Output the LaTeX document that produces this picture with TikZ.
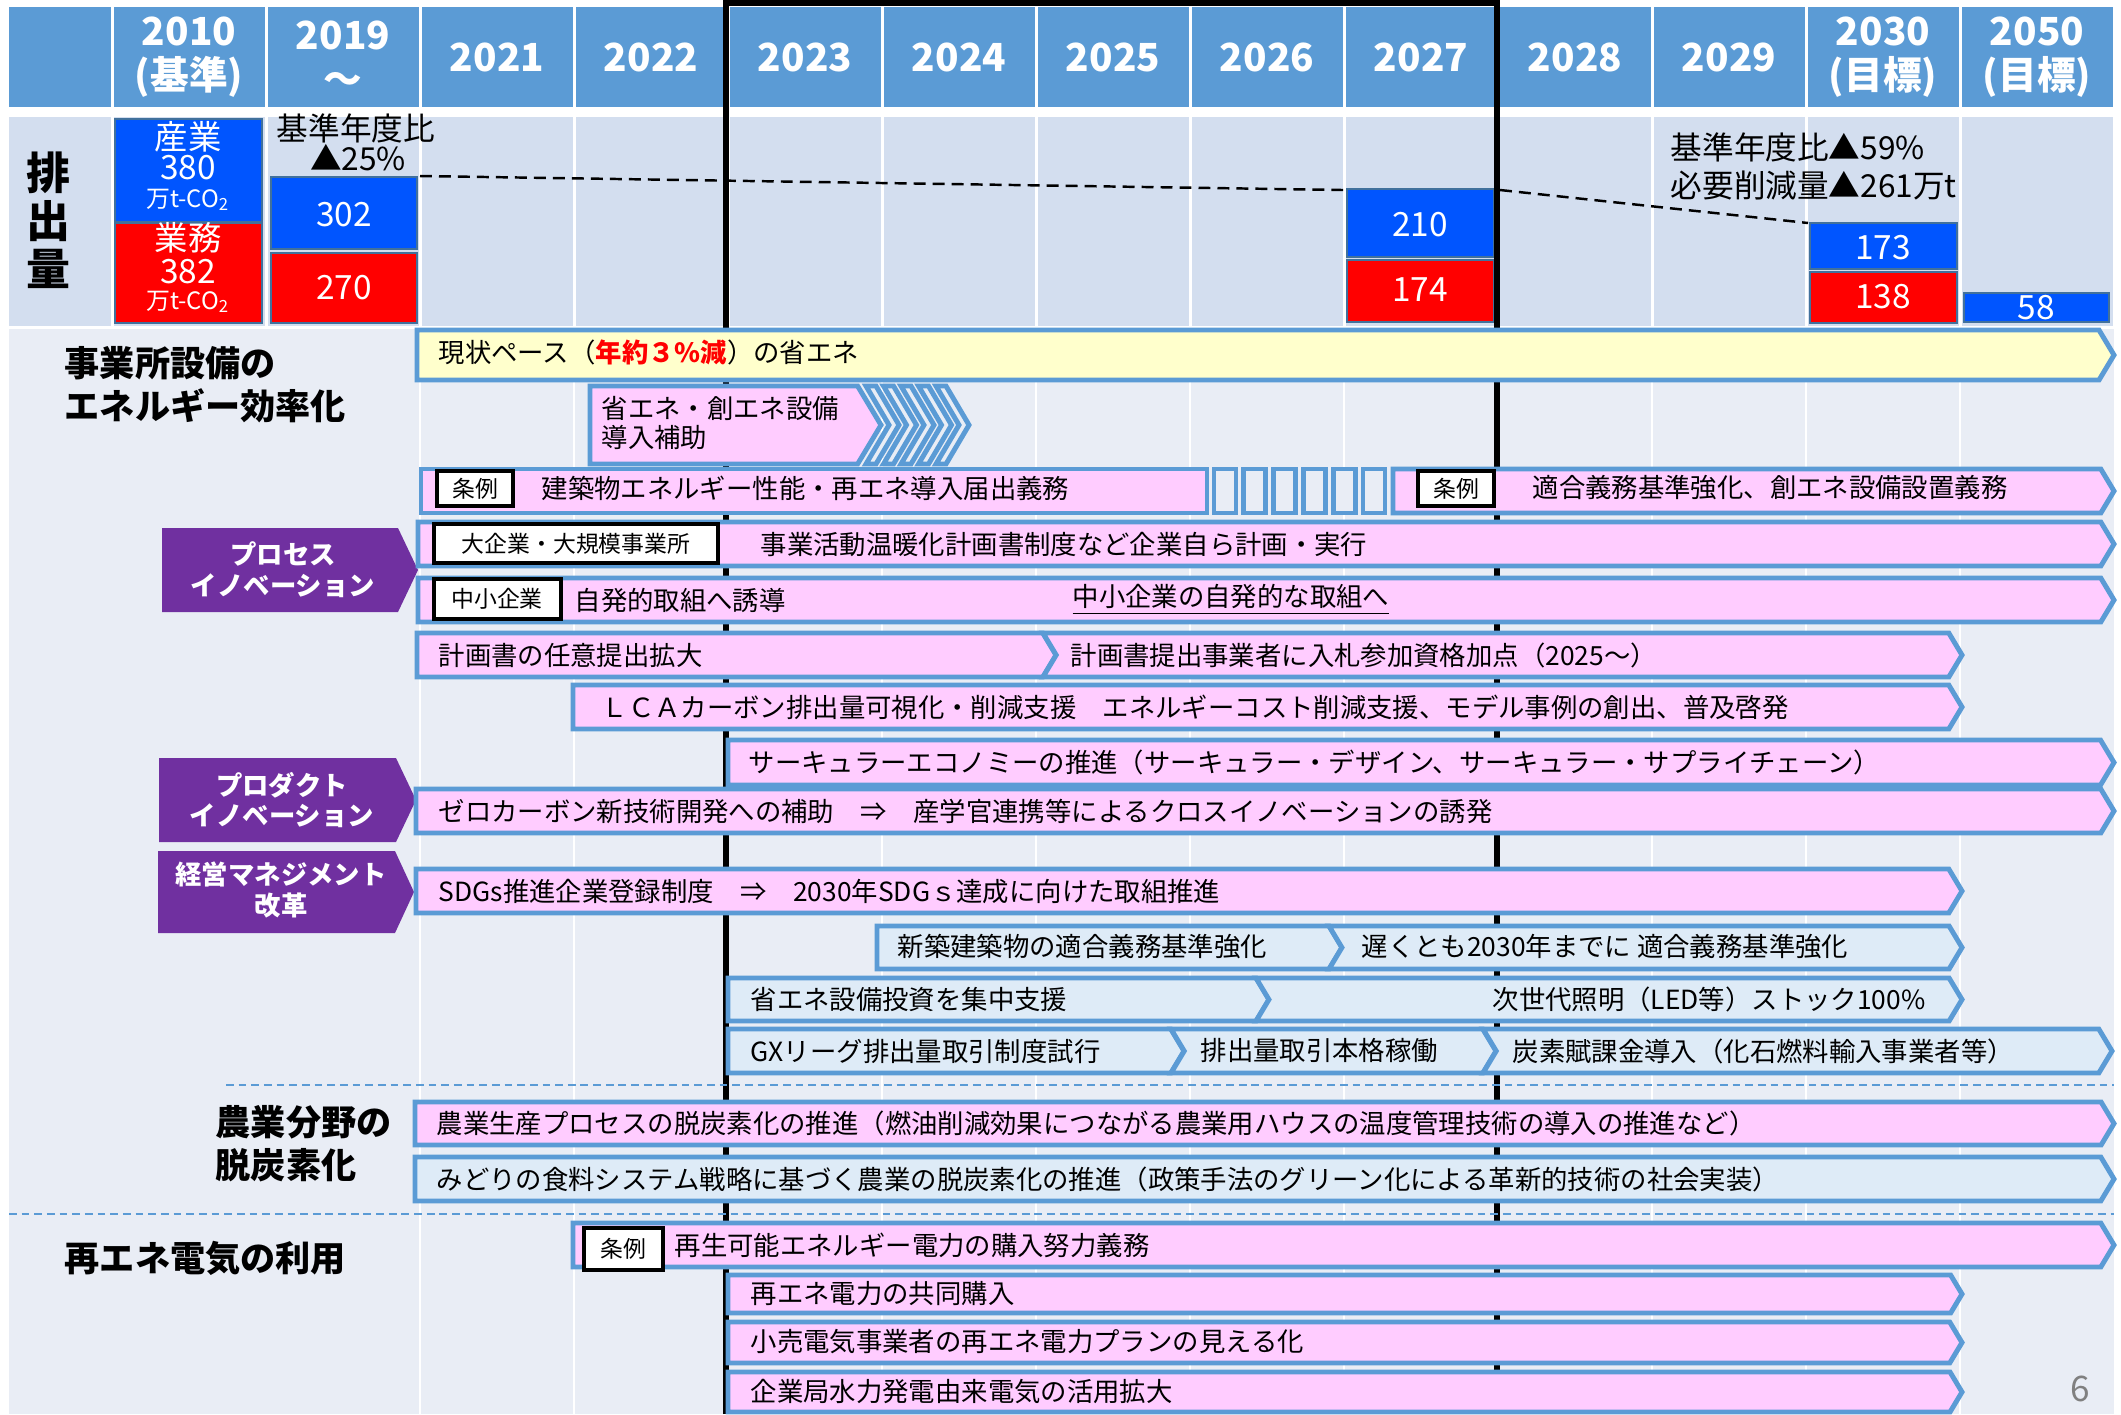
\documentclass[tikz,border=0pt]{standalone}
\usepackage{fontspec}
\setmainfont{Noto Sans CJK JP}
\usepackage{tikz}
\definecolor{hdrblue}{HTML}{5B9BD5}
\definecolor{emrowbg}{HTML}{D3DEEF}
\definecolor{bodybg}{HTML}{E9EDF5}
\definecolor{barpink}{HTML}{FFCCFF}
\definecolor{baryellow}{HTML}{FFFFCC}
\definecolor{barsky}{HTML}{DEEBF7}
\definecolor{tagpurple}{HTML}{7030A0}
\definecolor{emblue}{HTML}{0055FF}
\definecolor{emred}{HTML}{FF0000}
\definecolor{emedge}{HTML}{41719C}
\tikzset{
  hdrtext/.style = {white, inner sep=0pt, align=center,
    font=\bfseries\fontsize{11}{12.5}\selectfont},% year heads
  emnum/.style = {white, inner sep=0pt, font=\fontsize{9.5}{10}\selectfont},
  emsmall/.style = {white, inner sep=0pt, font=\fontsize{6.8}{7}\selectfont},
  emnote/.style = {inner sep=0pt, font=\fontsize{9}{10}\selectfont},
  emhead/.style = {inner sep=0pt, align=center,
    font=\bfseries\fontsize{12.5}{13.7}\selectfont},
  embox/.style = {draw=emedge, line width=0.8pt},
  trend/.style = {black, line width=0.7pt, dash pattern=on 3.4pt off 2pt},
  gridline/.style = {white, line width=0.8pt},
  nowframe/.style = {black, line width=1.8pt},
  sepline/.style = {hdrblue, line width=0.6pt, dash pattern=on 2.2pt off 1.4pt},
  barrim/.style = {draw=hdrblue, line width=1.4pt},% blue rim of the bars
  bartxt/.style = {anchor=west, inner sep=0pt, font=\fontsize{7.5}{9}\selectfont},
  labbox/.style = {draw=black, fill=white, line width=0.9pt},
  labtxt/.style = {inner sep=0pt, font=\fontsize{6.5}{7}\selectfont},
  secttext/.style = {anchor=west, inner sep=0pt, align=left,
    font=\bfseries\fontsize{10}{12.2}\selectfont},
  tagtext/.style = {white, inner sep=0pt, align=center,
    font=\bfseries\fontsize{7.5}{8.8}\selectfont},
  pagenum/.style = {gray, inner sep=0pt, font=\fontsize{10}{10}\selectfont}
}
% bar with a point on the right: colour, left, tip, top, bottom
\newcommand{\tipbar}[5]{%
  \draw[barrim, fill=#1] (#2,#4) -- ({#3-0.3*(#5-#4)},#4) -- (#3,{(#4+#5)/2})
    -- ({#3-0.3*(#5-#4)},#5) -- (#2,#5) -- cycle;}
% same, notched on the left to take the point of the bar before it
\newcommand{\notchbar}[5]{%
  \draw[barrim, fill=#1] (#2,#4) -- ({#3-0.3*(#5-#4)},#4) -- (#3,{(#4+#5)/2})
    -- ({#3-0.3*(#5-#4)},#5) -- (#2,#5) -- ({#2+0.3*(#5-#4)},{(#4+#5)/2}) -- cycle;}

\begin{document}
\begin{tikzpicture}[x=0.01cm, y=-0.01cm]
  \useasboundingbox (0,0) rectangle (2121,1414);
  % head row and emission row
  \fill[hdrblue] (9,7) rectangle (110.5,107);
  \fill[emrowbg] (9,117) rectangle (110.5,326);
  \foreach \k/\yr in {0/{2010\\(基準)}, 1/{2019\\～}, 2/2021, 3/2022, 4/2023,
      5/2024, 6/2025, 7/2026, 8/2027, 9/2028, 10/2029, 11/{2030\\(目標)},
      12/{2050\\(目標)}}{
    \fill[hdrblue] ({112+154*\k+1.5},7) rectangle ({112+154*(\k+1)-1.5},107);
    \fill[emrowbg] ({112+154*\k+1.5},117) rectangle ({112+154*(\k+1)-1.5},326);
    \node[hdrtext] (h\k) at ({112+154*\k+77},57) {\yr};
  }
  \node[emhead] (ehead) at (48,220) {排\\出\\量};
  % body
  \fill[bodybg] (9,329) rectangle (2114,1414);
  \foreach \k in {2,...,12}
    \draw[gridline] ({112+154*\k},329) -- ({112+154*\k},1414);

  % emission blocks
  \draw[embox, fill=emblue] (115,119) rectangle (262,222);
  \draw[embox, fill=emred] (115,223) rectangle (262,323);
  \node[emnum] (ind10) at (188,137) {産業};
  \node[emnum] (ind10v) at (188,168) {380};
  \node[emsmall] (ind10u) at (188,200) {万t-CO\textsubscript{2}};
  \node[emnum] (biz10) at (188,238) {業務};
  \node[emnum] (biz10v) at (188,272) {382};
  \node[emsmall] (biz10u) at (188,302) {万t-CO\textsubscript{2}};
  \draw[embox, fill=emblue] (271,177) rectangle (417,249);
  \draw[embox, fill=emred] (271,253) rectangle (417,323);
  \node[emnum] (ind19) at (344,215) {302};
  \node[emnum] (biz19) at (344,288) {270};
  \draw[embox, fill=emblue] (1347,189) rectangle (1494,257);
  \draw[embox, fill=emred] (1347,260) rectangle (1494,322);
  \node[emnum] (ind27) at (1420,225) {210};
  \node[emnum] (biz27) at (1420,290) {174};
  \draw[embox, fill=emblue] (1810,223) rectangle (1957,269);
  \draw[embox, fill=emred] (1810,272) rectangle (1957,323);
  \node[emnum] (ind30) at (1883,248) {173};
  \node[emnum] (biz30) at (1883,297) {138};
  \draw[embox, fill=emblue] (1964,293) rectangle (2109,322);
  \node[emnum] (all50) at (2036,308) {58};
  \node[emnote] (r19a) at (356,128) {基準年度比};
  \node[emnote] (r19b) at (358,158) {▲25\%};
  \node[emnote, anchor=west] (r30a) at (1670,147) {基準年度比▲59\%};
  \node[emnote, anchor=west] (r30b) at (1670,185) {必要削減量▲261万t};
  \coordinate (top19) at (420,176);
  \coordinate (top27) at (1343,190);
  \coordinate (top27r) at (1500,190);
  \coordinate (top30) at (1808,223);
  \draw[trend] (top19) -- (top27);
  \draw[trend] (top27r) -- (top30);

  % 2023-2027 frame
  \draw[nowframe] (726,1414) -- (726,3) -- (1497,3) -- (1497,1414);

  % side labels
  \node[secttext] (sEff) at (64,385) {事業所設備の\\エネルギー効率化};
  \node[secttext] (sAgri) at (215,1144) {農業分野の\\脱炭素化};
  \node[secttext] (sRen) at (64,1258) {再エネ電気の利用};
  \fill[tagpurple] (162,528) -- (398,528) -- (418,570) -- (398,612) -- (162,612) -- cycle;
  \node[tagtext] (tProc) at (283,570) {プロセス\\イノベーション};
  \fill[tagpurple] (159,758) -- (396,758) -- (416,800) -- (396,842) -- (159,842) -- cycle;
  \node[tagtext] (tProd) at (282,800) {プロダクト\\イノベーション};
  \fill[tagpurple] (158,851) -- (395,851) -- (414,892) -- (395,933) -- (158,933) -- cycle;
  \node[tagtext] (tMgmt) at (281,890) {経営マネジメント\\改革};

  % efficiency bars
  \tipbar{baryellow}{417}{2114}{330}{380}
  \node[bartxt] (b1) at (438,352) {現状ペース（{\color{red}\bfseries 年約３\%減}）の省エネ};
  \tipbar{barpink}{590}{881}{386}{464}
  \foreach \s in {0,...,4}
    \draw[barrim, fill=bodybg] ({866+17.5*\s},386) -- ({876+17.5*\s},386)
      -- ({899+17.5*\s},425) -- ({876+17.5*\s},464) -- ({866+17.5*\s},464)
      -- ({889+17.5*\s},425) -- cycle;
  \node[bartxt] (b2a) at (601,408) {省エネ・創エネ設備};
  \node[bartxt] (b2b) at (601,437) {導入補助};
  \draw[barrim, fill=barpink] (421,469) rectangle (1207,513);
  \foreach \s in {0,...,5}
    \draw[barrim, fill=bodybg] ({1214+29.8*\s},469) rectangle ({1236+29.8*\s},513);
  \tipbar{barpink}{1393}{2114}{469}{513}
  \draw[labbox] (437,471) rectangle (513,506);
  \node[labtxt] (j1) at (475,489) {条例};
  \node[bartxt] (b3a) at (541,488) {建築物エネルギー性能・再エネ導入届出義務};
  \draw[labbox] (1418,471) rectangle (1494,506);
  \node[labtxt] (j2) at (1456,489) {条例};
  \node[bartxt] (b3b) at (1532,488) {適合義務基準強化、創エネ設備設置義務};
  \tipbar{barpink}{418}{2114}{522}{566}
  \draw[labbox] (434,524) rectangle (718,563);
  \node[labtxt] (k1) at (576,544) {大企業・大規模事業所};
  \node[bartxt] (b4) at (760,544) {事業活動温暖化計画書制度など企業自ら計画・実行};
  \tipbar{barpink}{418}{2114}{578}{622}
  \draw[labbox] (434,579) rectangle (561,619);
  \node[labtxt] (k2) at (497,599) {中小企業};
  \node[bartxt] (b5a) at (574,600) {自発的取組へ誘導};
  \node[bartxt] (b5b) at (1072,600) {\underline{中小企業の自発的な取組へ}};
  \tipbar{barpink}{417}{1056}{633}{677}
  \notchbar{barpink}{1043}{1962}{633}{677}
  \node[bartxt] (b6a) at (438,655) {計画書の任意提出拡大};
  \node[bartxt] (b6b) at (1070,655) {計画書提出事業者に入札参加資格加点（2025～）};
  \tipbar{barpink}{573}{1962}{685}{729}
  \node[bartxt] (b7) at (601,707) {ＬＣＡカーボン排出量可視化・削減支援　エネルギーコスト削減支援、モデル事例の創出、普及啓発};
  \tipbar{barpink}{728}{2114}{740}{785}
  \node[bartxt] (b8) at (748,762) {サーキュラーエコノミーの推進（サーキュラー・デザイン、サーキュラー・サプライチェーン）};
  \tipbar{barpink}{416}{2114}{789}{833}
  \node[bartxt] (b9) at (438,811) {ゼロカーボン新技術開発への補助　⇒　産学官連携等によるクロスイノベーションの誘発};
  \tipbar{barpink}{416}{1962}{869}{913}
  \node[bartxt] (b10) at (438,891) {SDGs推進企業登録制度　⇒　2030年SDGｓ達成に向けた取組推進};
  \tipbar{barsky}{877}{1342}{926}{969}
  \notchbar{barsky}{1329}{1962}{926}{969}
  \node[bartxt] (b11a) at (897,947) {新築建築物の適合義務基準強化};
  \node[bartxt] (b11b) at (1361,947) {遅くとも2030年までに 適合義務基準強化};
  \tipbar{barsky}{728}{1269}{978}{1021}
  \notchbar{barsky}{1256}{1962}{978}{1021}
  \node[bartxt] (b12a) at (750,999) {省エネ設備投資を集中支援};
  \node[bartxt] (b12b) at (1492,999) {次世代照明（LED等）ストック100\%};
  \tipbar{barsky}{728}{1184}{1029}{1073}
  \notchbar{barsky}{1171}{1496}{1029}{1073}
  \notchbar{barsky}{1483}{2112}{1029}{1073}
  \node[bartxt] (b13a) at (750,1051) {GXリーグ排出量取引制度試行};
  \node[bartxt] (b13b) at (1200,1051) {排出量取引本格稼働};
  \node[bartxt] (b13c) at (1512,1051) {炭素賦課金導入（化石燃料輸入事業者等）};

  % agriculture
  \draw[sepline] (226,1085) -- (2114,1085);
  \tipbar{barpink}{415}{2114}{1102}{1145}
  \node[bartxt] (b14) at (436,1123) {農業生産プロセスの脱炭素化の推進（燃油削減効果につながる農業用ハウスの温度管理技術の導入の推進など）};
  \tipbar{barsky}{415}{2114}{1157}{1201}
  \node[bartxt] (b15) at (436,1179) {みどりの食料システム戦略に基づく農業の脱炭素化の推進（政策手法のグリーン化による革新的技術の社会実装）};

  % renewable power
  \draw[sepline] (9,1214) -- (2114,1214);
  \tipbar{barpink}{573}{2114}{1223}{1267}
  \draw[labbox] (584,1228) rectangle (663,1270);
  \node[labtxt] (j3) at (623,1249) {条例};
  \node[bartxt] (b16) at (674,1245) {再生可能エネルギー電力の購入努力義務};
  \tipbar{barpink}{728}{1962}{1275}{1313}
  \node[bartxt] (b17) at (750,1294) {再エネ電力の共同購入};
  \tipbar{barpink}{728}{1962}{1322}{1363}
  \node[bartxt] (b18) at (750,1342) {小売電気事業者の再エネ電力プランの見える化};
  \tipbar{barpink}{728}{1962}{1372}{1412}
  \node[bartxt] (b19) at (750,1392) {企業局水力発電由来電気の活用拡大};

  \node[pagenum] (pg) at (2080,1389) {6};
\end{tikzpicture}
\end{document}
